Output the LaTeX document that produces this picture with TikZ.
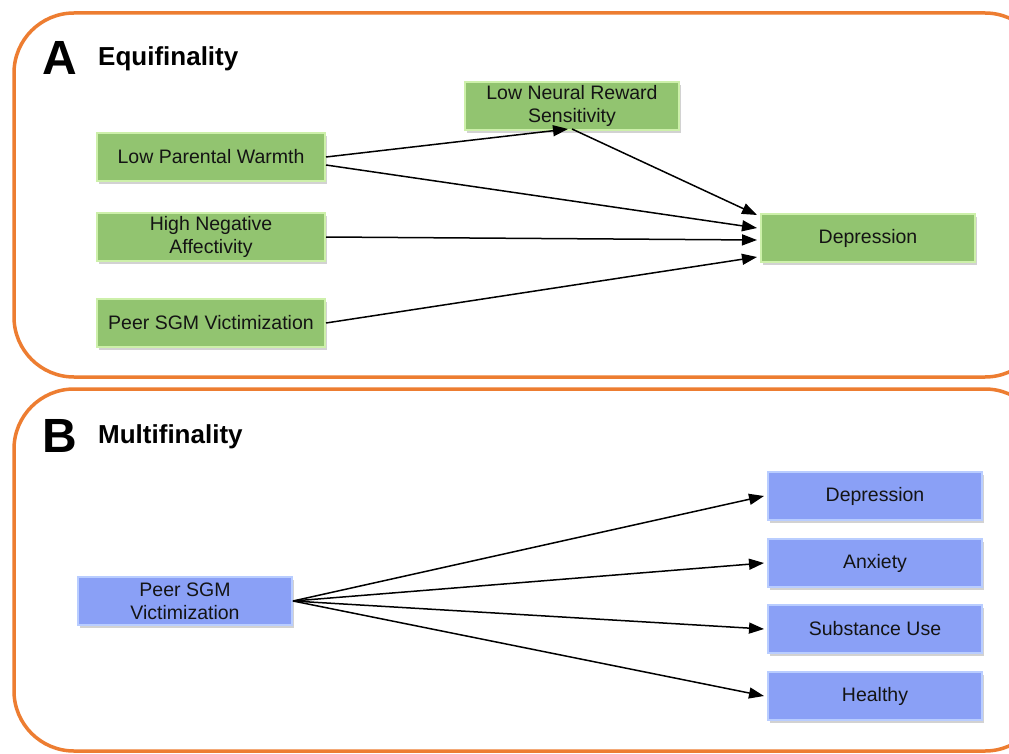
\documentclass[tikz,border=0pt]{standalone}
\usepackage{fontspec}
\setmainfont{Liberation Sans}
\usetikzlibrary{arrows.meta,shadows}
\definecolor{panelorange}{RGB}{237,125,49}
\definecolor{gfill}{RGB}{146,196,112}
\definecolor{gline}{RGB}{205,240,170}
\definecolor{bfill}{RGB}{138,160,246}
\definecolor{bline}{RGB}{185,205,255}
\definecolor{txt}{RGB}{20,20,20}
\tikzset{
  panel/.style={draw=panelorange, line width=3.5pt, rounded corners=60pt},
  gbox/.style={draw=gline, fill=gfill, line width=2pt, minimum width=228pt, minimum height=48pt,
    align=center, font=\fontsize{19.5}{23}\selectfont, text=txt, inner sep=2pt,
    drop shadow={shadow xshift=2pt, shadow yshift=-3pt, opacity=0.35}},
  bbox/.style={gbox, draw=bline, fill=bfill},
  conn/.style={line width=1.5pt, -{Triangle[length=15pt,width=11pt]}},
  bigletter/.style={font=\fontsize{48}{48}\selectfont\bfseries, anchor=west, inner sep=0pt},
  ptitle/.style={font=\fontsize{26}{28}\selectfont\bfseries, anchor=west, inner sep=0pt},
}
\begin{document}
\begin{tikzpicture}[x=1pt,y=-1pt]
\useasboundingbox (0,0) rectangle (1009,754);
\clip (0,0) rectangle (1009,754);
\fill[white] (0,0) rectangle (1009,754);
% panels
\draw[panel] (14,13) rectangle (1045,377);
\draw[panel] (14,389) rectangle (1045,751);
% titles
\node[bigletter] (la) at (42,58) {A};
\node[ptitle] (ta) at (98,59) {Equifinality};
\node[bigletter] (lb) at (42,436) {B};
\node[ptitle] (tb) at (98,437) {Multifinality};
% panel A nodes
\node[gbox] (lpw) at (211,157) {Low Parental Warmth};
\node[gbox] (hna) at (211,237) {High Negative\\Affectivity};
\node[gbox] (psv) at (211,323) {Peer SGM Victimization};
\node[gbox, minimum width=214pt] (lnrs) at (572,106) {Low Neural Reward\\Sensitivity};
\node[gbox, minimum width=214pt] (dep) at (868,238) {Depression};
% panel A connectors
\draw[conn] (lpw.east) -- ([xshift=-4pt,yshift=2pt]lnrs.south);
\draw[conn] ([yshift=2pt]lnrs.south) -- ([xshift=-3pt,yshift=23pt]dep.west);
\draw[conn] ([yshift=-8pt]lpw.east) -- ([xshift=-3pt,yshift=10pt]dep.west);
\draw[conn] (hna.east) -- ([xshift=-3pt,yshift=-2pt]dep.west);
\draw[conn] (psv.east) -- ([xshift=-3pt,yshift=-19pt]dep.west);
% panel B nodes
\node[bbox, minimum width=214pt] (psv2) at (185,601) {Peer SGM\\Victimization};
\node[bbox, minimum width=214pt] (dep2) at (875,496) {Depression};
\node[bbox, minimum width=214pt] (anx) at (875,563) {Anxiety};
\node[bbox, minimum width=214pt] (sub) at (875,629) {Substance Use};
\node[bbox, minimum width=214pt] (hea) at (875,696) {Healthy};
% panel B connectors
\draw[conn] (psv2.east) -- ([xshift=-3pt]dep2.west);
\draw[conn] (psv2.east) -- ([xshift=-3pt]anx.west);
\draw[conn] (psv2.east) -- ([xshift=-3pt]sub.west);
\draw[conn] (psv2.east) -- ([xshift=-3pt]hea.west);
\end{tikzpicture}
\end{document}
